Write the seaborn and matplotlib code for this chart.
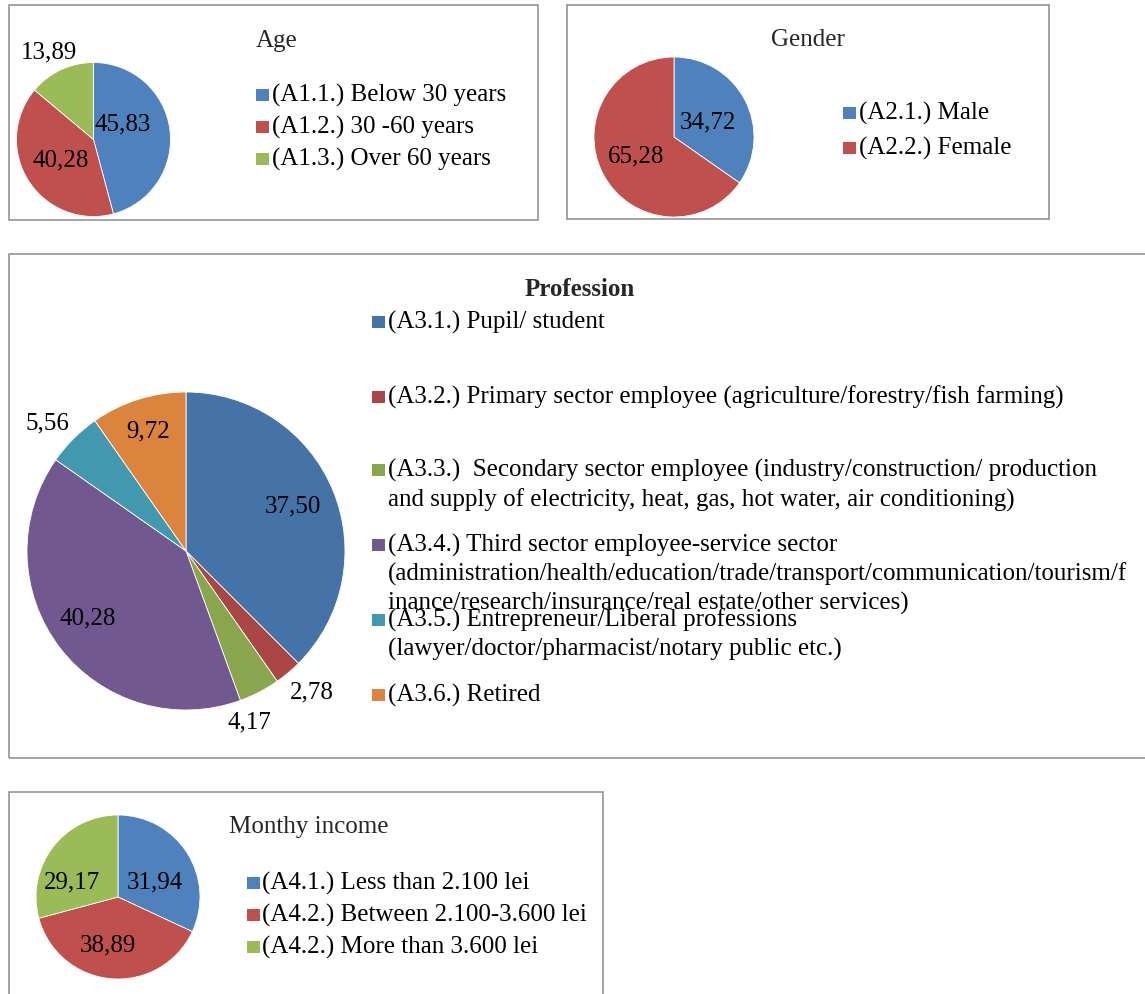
import math
import matplotlib
matplotlib.use("Agg")
import matplotlib.pyplot as plt
from matplotlib.patches import Rectangle
import seaborn as sns

# ---- data -------------------------------------------------------------
age_labels = ["(A1.1.) Below 30 years", "(A1.2.) 30 -60 years", "(A1.3.) Over 60 years"]
age_values = [45.83, 40.28, 13.89]

gender_labels = ["(A2.1.) Male", "(A2.2.) Female"]
gender_values = [34.72, 65.28]

prof_labels = [
    ["(A3.1.) Pupil/ student"],
    ["(A3.2.) Primary sector employee (agriculture/forestry/fish farming)"],
    ["(A3.3.)  Secondary sector employee (industry/construction/ production",
     "and supply of electricity, heat, gas, hot water, air conditioning)"],
    ["(A3.4.) Third sector employee-service sector",
     "(administration/health/education/trade/transport/communication/tourism/f",
     "inance/research/insurance/real estate/other services)"],
    ["(A3.5.) Entrepreneur/Liberal professions",
     "(lawyer/doctor/pharmacist/notary public etc.)"],
    ["(A3.6.) Retired"],
]
prof_values = [37.50, 2.78, 4.17, 40.28, 5.56, 9.72]

income_labels = ["(A4.1.) Less than 2.100 lei", "(A4.2.) Between 2.100-3.600 lei",
                 "(A4.2.) More than 3.600 lei"]
income_values = [31.94, 38.89, 29.17]

# ---- style ------------------------------------------------------------
sns.set_theme(style="white")
plt.rcParams["font.family"] = ["Liberation Serif", "DejaVu Serif"]
FS = 18

light_pal = sns.color_palette(["#4F81BD", "#C0504D", "#9BBB59"])
dark_pal = sns.color_palette(["#4572A7", "#AA4643", "#89A54E",
                              "#71588F", "#4198AF", "#DB843D"])

W, H = 1145, 994
fig = plt.figure(figsize=(W / 100, H / 100), dpi=100)
fig.patch.set_facecolor("white")


def fx(x):
    return x / W


def fy(y):
    return 1 - y / H


def frame(x0, y0, x1, y1):
    fig.add_artist(Rectangle((fx(x0), fy(y1)), fx(x1) - fx(x0), fy(y0) - fy(y1),
                             transform=fig.transFigure, fill=False,
                             edgecolor="#8C8C8C", linewidth=1.1))


def pie_panel(cx, cy, r, values, colors, label_place):
    ax = fig.add_axes([fx(cx - r), fy(cy + r), 2 * r / W, 2 * r / H])
    ax.pie(values, colors=colors, startangle=90, counterclock=False, radius=1,
           wedgeprops=dict(edgecolor="white", linewidth=0.6))
    ax.set_xlim(-1, 1)
    ax.set_ylim(-1, 1)
    ax.set_aspect("auto")
    ax.axis("off")
    total = sum(values)
    cum = 0.0
    for v, (dist, nudge) in zip(values, label_place):
        mid = 90 - 360 * (cum + v / 2) / total + nudge
        cum += v
        t = math.radians(mid)
        ax.text(dist * math.cos(t), dist * math.sin(t), f"{v:.2f}".replace(".", ","),
                ha="center", va="center", fontsize=FS, color="black", clip_on=False)
    return ax


def legend_entry(xm, y, color, lines, step=30, xt=None):
    w, h = 13, 12
    fig.add_artist(Rectangle((fx(xm), fy(y + h / 2)), w / W, h / H,
                             transform=fig.transFigure, facecolor=color,
                             edgecolor="none"))
    if xt is None:
        xt = xm + w + 2
    for i, line in enumerate(lines):
        fig.text(fx(xt), fy(y + i * step), line, ha="left",
                 va="center", fontsize=FS, color="black")


# ---- Age --------------------------------------------------------------
frame(9, 5, 538, 220)
pie_panel(93.5, 139.5, 77, age_values, light_pal[:3],
          [(0.43, 20), (0.50, 0), (1.275, 2)])
fig.text(fx(277), fy(41), "Age", ha="center", va="center", fontsize=FS)
for i, (lab, c) in enumerate(zip(age_labels, light_pal)):
    legend_entry(256, [95, 127, 159][i], c, [lab], xt=272)

# ---- Gender -----------------------------------------------------------
frame(567, 5, 1049, 219)
pie_panel(674, 137, 80, gender_values, light_pal[:2],
          [(0.465, -3.7), (0.54, 0)])
fig.text(fx(808), fy(40), "Gender", ha="center", va="center", fontsize=FS)
for i, (lab, c) in enumerate(zip(gender_labels, light_pal)):
    legend_entry(843, [113, 148][i], c, [lab], xt=859)

# ---- Profession -------------------------------------------------------
frame(9, 254, 1160, 758)
pie_panel(186, 551, 159, prof_values, dark_pal,
          [(0.728, 0), (1.194, 1.6), (1.148, -7), (0.747, -3.1),
           (1.188, 2.4), (0.786, 0)])
fig.text(fx(580), fy(289), "Profession", ha="center", va="center",
         fontsize=FS, fontweight="bold")
prof_rows = [322, 397, 470, 545, 620, 695]
prof_steps = [30, 30, 30, 29, 29, 30]
for lines, y, s, c in zip(prof_labels, prof_rows, prof_steps, dark_pal):
    legend_entry(372, y, c, lines, step=s, xt=388)

# ---- Monthly income ---------------------------------------------------
frame(9, 792, 603, 1010)
pie_panel(118, 897, 82, income_values, light_pal[:3],
          [(0.487, -10.5), (0.60, -6.8), (0.59, 19.5)])
fig.text(fx(229), fy(827), "Monthy income", ha="left", va="center", fontsize=FS)
for i, (lab, c) in enumerate(zip(income_labels, light_pal)):
    legend_entry(247, [883, 915, 947][i], c, [lab], xt=262)

fig.savefig("out.png", dpi=100, facecolor="white")
